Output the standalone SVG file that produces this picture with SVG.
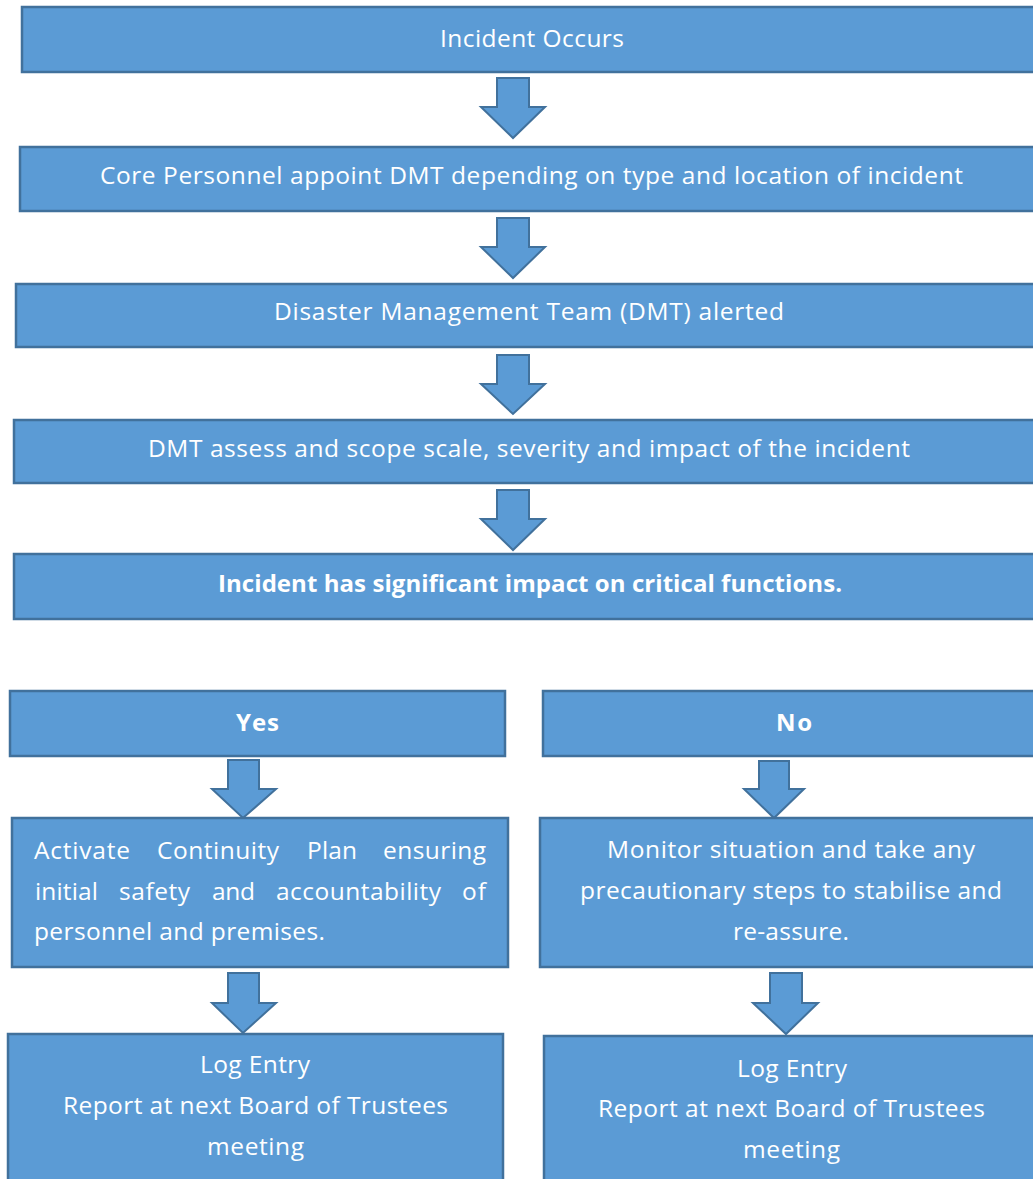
<svg xmlns="http://www.w3.org/2000/svg" width="1033" height="1179" viewBox="0 0 1033 1179">
<style>
.box{fill:#5B9BD5;stroke:#41719C;stroke-width:2.5}
.arr{fill:#5B9BD5;stroke:#41719C;stroke-width:2;stroke-linejoin:miter}
text{font-family:"Open Sans","Liberation Sans",sans-serif;font-size:24.5px;fill:#FFFFFF}
.b{font-weight:bold;font-size:24px}
</style>
<rect width="1033" height="1179" fill="#FFFFFF"/>
<g id="connectors">
<polygon class="arr" points="497,78 529,78 529,107 545,107 513,138 481,107 497,107"/>
<polygon class="arr" points="497,218 529,218 529,247 545,247 513,278 481,247 497,247"/>
<polygon class="arr" points="497,355 529,355 529,384 545,384 513,414 481,384 497,384"/>
<polygon class="arr" points="497,490 529,490 529,519 545,519 513,550 481,519 497,519"/>
<polygon class="arr" points="228,760 259,760 259,789 276,789 243,818 212,789 228,789"/>
<polygon class="arr" points="759,761 789,761 789,789 804,789 774,818 744,789 759,789"/>
<polygon class="arr" points="228,973 259,973 259,1003 276,1003 243,1033 212,1003 228,1003"/>
<polygon class="arr" points="770,973 802,973 802,1003 818,1003 786,1034 753,1003 770,1003"/>
</g>
<g id="n1">
<rect class="box" x="22" y="7" width="1020" height="65"/>
<text x="532" y="47" text-anchor="middle" textLength="184">Incident Occurs</text>
</g>
<g id="n2">
<rect class="box" x="20" y="147" width="1022" height="64"/>
<text x="531.5" y="184" text-anchor="middle" textLength="863">Core Personnel appoint DMT depending on type and location of incident</text>
</g>
<g id="n3">
<rect class="box" x="16" y="284" width="1026" height="63"/>
<text x="529" y="320" text-anchor="middle" textLength="510">Disaster Management Team (DMT) alerted</text>
</g>
<g id="n4">
<rect class="box" x="14" y="420" width="1028" height="63"/>
<text x="529" y="457" text-anchor="middle" textLength="762">DMT assess and scope scale, severity and impact of the incident</text>
</g>
<g id="n5">
<rect class="box" x="14" y="554" width="1028" height="65"/>
<text class="b" x="530" y="592" text-anchor="middle" textLength="624">Incident has significant impact on critical functions.</text>
</g>
<g id="yes">
<rect class="box" x="10" y="691" width="495" height="65"/>
<text class="b" x="257.5" y="731" text-anchor="middle" textLength="43">Yes</text>
</g>
<g id="no">
<rect class="box" x="543" y="691" width="499" height="65"/>
<text class="b" x="794" y="731" text-anchor="middle" textLength="36">No</text>
</g>
<g id="activate">
<rect class="box" x="12" y="818" width="496" height="149"/>
<text y="859"><tspan x="34" textLength="96">Activate</tspan> <tspan x="157" textLength="122">Continuity</tspan> <tspan x="307" textLength="50">Plan</tspan> <tspan x="383" textLength="103">ensuring</tspan></text>
<text y="900"><tspan x="35" textLength="63">initial</tspan> <tspan x="119" textLength="71">safety</tspan> <tspan x="212" textLength="43">and</tspan> <tspan x="276" textLength="165">accountability</tspan> <tspan x="462" textLength="24">of</tspan></text>
<text x="34" y="940" textLength="291">personnel and premises.</text>
</g>
<g id="monitor">
<rect class="box" x="540" y="818" width="502" height="149"/>
<text x="791" y="858" text-anchor="middle" textLength="368">Monitor situation and take any</text>
<text x="791" y="899" text-anchor="middle" textLength="422">precautionary steps to stabilise and</text>
<text x="791" y="940" text-anchor="middle" textLength="116">re-assure.</text>
</g>
<g id="log-yes">
<rect class="box" x="8" y="1034" width="495" height="155"/>
<text x="255" y="1073" text-anchor="middle" textLength="110">Log Entry</text>
<text x="255.5" y="1114" text-anchor="middle" textLength="385">Report at next Board of Trustees</text>
<text x="255.5" y="1155" text-anchor="middle" textLength="97">meeting</text>
</g>
<g id="log-no">
<rect class="box" x="544" y="1036" width="498" height="155"/>
<text x="792" y="1077" text-anchor="middle" textLength="110">Log Entry</text>
<text x="791.5" y="1117" text-anchor="middle" textLength="387">Report at next Board of Trustees</text>
<text x="791.5" y="1158" text-anchor="middle" textLength="97">meeting</text>
</g>
</svg>
